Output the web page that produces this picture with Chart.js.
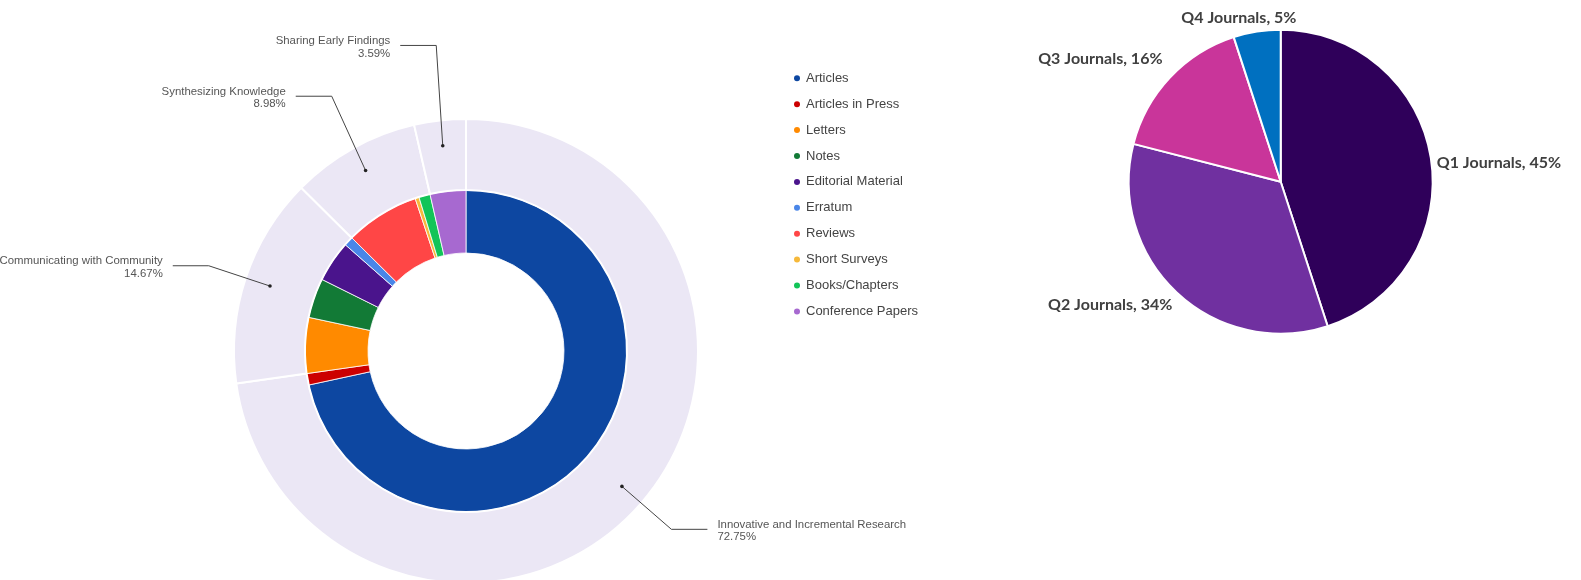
<!DOCTYPE html>
<html>
<head>
<meta charset="utf-8">
<script src="https://cdn.jsdelivr.net/npm/chart.js@4/dist/chart.umd.min.js"></script>
<style>
  html, body { margin: 0; padding: 0; background: #fff; width: 1581px; height: 580px; overflow: hidden; }
  #typesChart { position: absolute; left: 0; top: 0; }
  #quartileChart { position: absolute; left: 960px; top: 0; }
</style>
</head>
<body>
<canvas id="typesChart" width="960" height="600"></canvas>
<canvas id="quartileChart" width="621" height="580"></canvas>
<script>
// outer ring: research categories
const categoryNames = ['Innovative and Incremental Research', 'Communicating with Community', 'Synthesizing Knowledge', 'Sharing Early Findings'];
const categoryShares = [72.75, 14.67, 8.98, 3.59];

// inner ring: document types
const docTypes = ['Articles', 'Articles in Press', 'Letters', 'Notes', 'Editorial Material', 'Erratum', 'Reviews', 'Short Surveys', 'Books/Chapters', 'Conference Papers'];
const docShares = [71.6, 1.15, 5.6, 3.98, 4.15, 0.94, 7.45, 0.4, 1.13, 3.59];
const docColors = ['#0d47a1', '#cc0000', '#ff8a00', '#127a36', '#4a148c', '#4a86e8', '#ff4646', '#f6b93b', '#12c458', '#a769d0'];

// right pie: journal quartiles
const quartiles = ['Q1 Journals', 'Q2 Journals', 'Q3 Journals', 'Q4 Journals'];
const quartileShares = [45, 34, 16, 5];
const quartileColors = ['#2f005a', '#7030a0', '#c9359a', '#0070c0'];

const calloutPlugin = {
  id: 'callouts',
  afterDatasetsDraw(chart, args, opts) {
    const ctx = chart.ctx;
    const arcs = chart.getDatasetMeta(0).data;
    ctx.save();
    arcs.forEach((arc, i) => {
      const mid = (arc.startAngle + arc.endAngle) / 2;
      const dotR = (arc.innerRadius + arc.outerRadius) / 2 + 10;
      const dx = arc.x + Math.cos(mid) * dotR, dy = arc.y + Math.sin(mid) * dotR;
      // leader bends a little off the mid angle where labels were spread apart
      const ea = mid + opts.shift[i] * Math.PI / 180;
      const ex = arc.x + Math.cos(ea) * opts.elbow[i], ey = arc.y + Math.sin(ea) * opts.elbow[i];
      const dir = Math.cos(mid) >= 0 ? 1 : -1;
      const lx = ex + dir * 36;

      ctx.strokeStyle = '#444';
      ctx.lineWidth = 1;
      ctx.beginPath();
      ctx.moveTo(dx, dy);
      ctx.lineTo(ex, ey);
      ctx.lineTo(lx, ey);
      ctx.stroke();

      ctx.fillStyle = '#222';
      ctx.beginPath();
      ctx.arc(dx, dy, 1.8, 0, Math.PI * 2);
      ctx.fill();

      ctx.fillStyle = '#555';
      ctx.font = '11.4px "Liberation Sans", Arial, sans-serif';
      ctx.textAlign = dir > 0 ? 'left' : 'right';
      ctx.textBaseline = 'middle';
      const tx = lx + dir * 10;
      ctx.fillText(categoryNames[i], tx, ey - 4.5);
      ctx.fillText(categoryShares[i].toFixed(2) + '%', tx, ey + 8);
    });
    ctx.restore();
  }
};

const legendPlugin = {
  id: 'dotLegend',
  afterDraw(chart) {
    const ctx = chart.ctx;
    ctx.save();
    ctx.font = '13px "Liberation Sans", Arial, sans-serif';
    ctx.textBaseline = 'middle';
    ctx.textAlign = 'left';
    docTypes.forEach((name, i) => {
      const y = 78.3 + i * 25.9;
      ctx.fillStyle = docColors[i];
      ctx.beginPath();
      ctx.arc(797, y, 3, 0, Math.PI * 2);
      ctx.fill();
      ctx.fillStyle = '#444';
      ctx.fillText(name, 806, y);
    });
    ctx.restore();
  }
};

new Chart(document.getElementById('typesChart'), {
  type: 'doughnut',
  data: {
    labels: docTypes,
    datasets: [{
      data: categoryShares,
      backgroundColor: '#ebe7f5',
      borderColor: '#fff',
      borderWidth: 2,
      weight: 71
    }, {
      data: docShares,
      backgroundColor: docColors,
      borderColor: '#fff',
      borderWidth: 0.8,
      weight: 63
    }]
  },
  options: {
    responsive: false,
    animation: false,
    radius: 232,
    cutout: '42.24%',
    layout: { padding: { left: 234, top: 119, right: 262, bottom: 17 } },
    plugins: {
      legend: { display: false },
      tooltip: { enabled: false },
      callouts: { elbow: [272, 271, 288, 307], shift: [0, 0, 1.3, 0.9] }
    }
  },
  plugins: [calloutPlugin, legendPlugin]
});

const pieLabelPlugin = {
  id: 'pieLabels',
  afterDatasetsDraw(chart, args, opts) {
    const ctx = chart.ctx;
    const arcs = chart.getDatasetMeta(0).data;
    ctx.save();
    ctx.font = 'bold 16px Lato, "Open Sans", sans-serif';
    ctx.fillStyle = '#404040';
    ctx.textAlign = 'center';
    ctx.textBaseline = 'middle';
    arcs.forEach((arc, i) => {
      const text = quartiles[i] + ', ' + quartileShares[i] + '%';
      const w = ctx.measureText(text).width, h = 16;
      const mid = (arc.startAngle + arc.endAngle) / 2;
      const cos = Math.cos(mid), sin = Math.sin(mid);
      const r = arc.outerRadius + 6;
      const px = arc.x + cos * r, py = arc.y + sin * r;
      const k = Math.max(Math.abs(cos), Math.abs(sin));
      const [nx, ny] = opts.nudge[i];
      ctx.fillText(text, px + (cos / k) * w / 2 + nx, py + (sin / k) * h / 2 + ny);
    });
    ctx.restore();
  }
};

new Chart(document.getElementById('quartileChart'), {
  type: 'pie',
  data: {
    labels: quartiles,
    datasets: [{
      data: quartileShares,
      backgroundColor: quartileColors,
      borderColor: '#fff',
      borderWidth: 2
    }]
  },
  options: {
    responsive: false,
    animation: false,
    radius: 152,
    layout: { padding: { left: 168.7, top: 29.7, right: 148.3, bottom: 246.3 } },
    plugins: {
      legend: { display: false },
      tooltip: { enabled: false },
      pieLabels: { nudge: [[0, 7], [-4, 0], [-3, -7], [-8, 0]] }
    }
  },
  plugins: [pieLabelPlugin]
});
</script>
</body>
</html>
